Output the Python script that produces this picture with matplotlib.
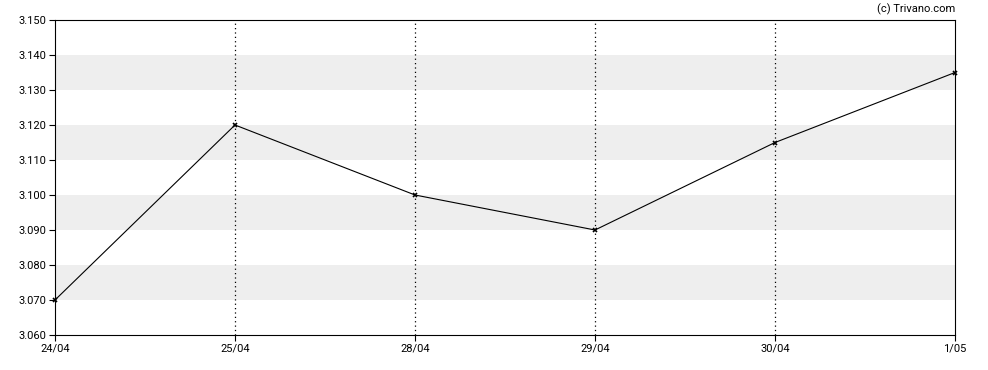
import matplotlib
matplotlib.use("Agg")
import matplotlib.pyplot as plt

plt.rcParams['font.family'] = ['Roboto', 'DejaVu Sans']

dates = ["24/04", "25/04", "28/04", "29/04", "30/04", "1/05"]
prices = [3.070, 3.120, 3.100, 3.090, 3.115, 3.135]
yticks = [3.060, 3.070, 3.080, 3.090, 3.100, 3.110, 3.120, 3.130, 3.140, 3.150]
bands = [(3.070, 3.080), (3.090, 3.100), (3.110, 3.120), (3.130, 3.140)]

fig = plt.figure(figsize=(9.88, 3.70), dpi=100)
ax = fig.add_axes([55/988, 1-335/370, 900/988, 315/370])

x = list(range(len(dates)))
for lo, hi in bands:
    ax.axhspan(lo, hi, color='#eeeeee', lw=0, zorder=0)
for xi in x[1:-1]:
    ax.axvline(xi, color='black', lw=0.9, ls=(0, (1, 2.5)), zorder=1)

ax.plot(x, prices, color='black', lw=0.8, marker='x', ms=3.5, mew=1.2, zorder=3, clip_on=False)

ax.set_xlim(0, len(dates)-1)
ax.set_ylim(3.060, 3.150)
ax.set_xticks(x)
ax.set_xticklabels(dates)
ax.set_yticks(yticks)
ax.set_yticklabels(["%.3f" % v for v in yticks])
ax.tick_params(labelsize=8, length=4, width=0.8, colors='black', pad=2)
for s in ax.spines.values():
    s.set_linewidth(0.8)

fig.text(955/988, 1-9/370, "(c) Trivano.com", ha='right', va='center', fontsize=8)

fig.savefig("out.png", dpi=100)
